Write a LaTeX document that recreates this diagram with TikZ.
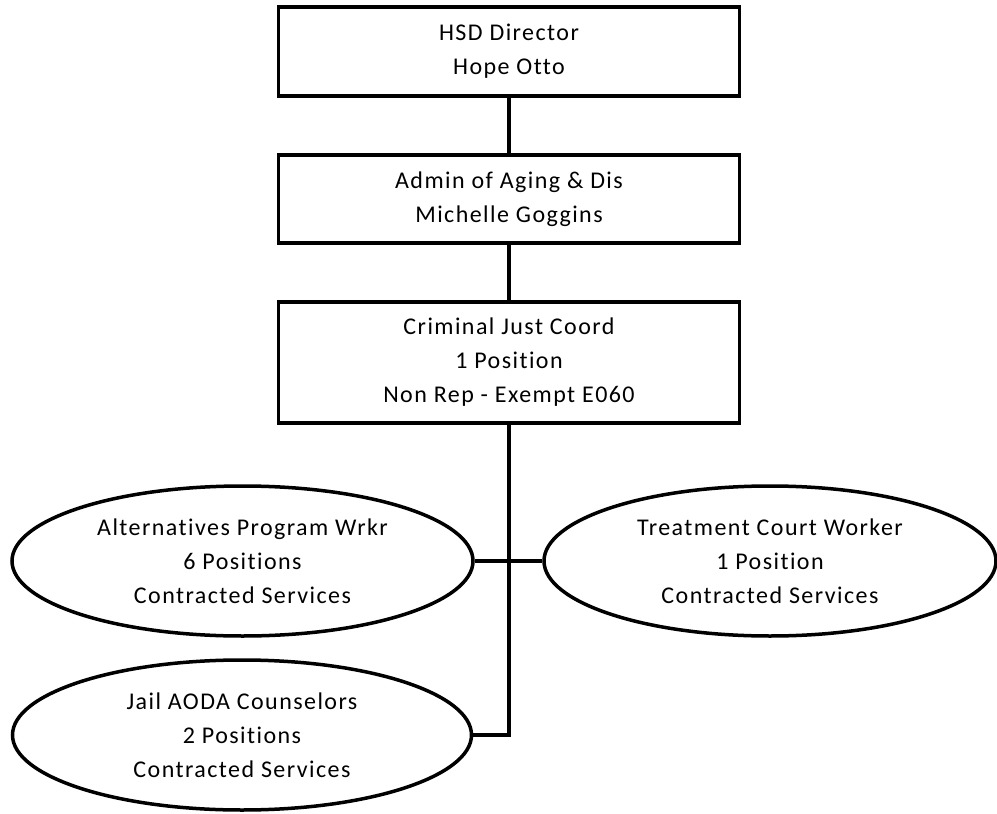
\documentclass[tikz,border=0pt]{standalone}
\usepackage{fontspec}
\setmainfont[LetterSpace=6, Ligatures={NoCommon}]{Carlito}
\usetikzlibrary{shapes.geometric}
\begin{document}
\begin{tikzpicture}[x=1pt,y=-1pt,
  every node/.style={font=\fontsize{24}{34}\selectfont, align=center, inner sep=0pt},
  rolebox/.style={draw=black, line width=3.5pt, rectangle, minimum width=461pt},
  roleoval/.style={draw=black, line width=3.5pt, ellipse, minimum height=150pt},
  link/.style={draw=black, line width=3.5pt, line join=miter}]
  % page frame
  \useasboundingbox[fill=white] (0,0) rectangle (997,814);

  % management chain
  \node[rolebox, minimum height=89pt] (hsd) at (509,51.5) {HSD Director\\Hope Otto};
  \node[rolebox, minimum height=88pt] (aging) at (509,199) {Admin of Aging \& Dis\\Michelle Goggins};
  \node[rolebox, minimum height=121pt] (cjc) at (509,362.5) {Criminal Just Coord\\1 Position\\Non Rep - Exempt E060};

  % contracted positions
  \node[roleoval, minimum width=461pt] (alt) at (242.5,561) {Alternatives Program Wrkr\\6 Positions\\Contracted Services};
  \node[roleoval, minimum width=452pt] (tcw) at (770,561) {Treatment Court Worker\\1 Position\\Contracted Services};
  \node[roleoval, minimum width=459pt] (jail) at (242,735) {Jail AODA Counselors\\2 Positions\\Contracted Services};

  % reporting lines
  \coordinate (trunkEnd) at (509,735);
  \draw[link] (hsd) -- (aging);
  \draw[link] (aging) -- (cjc);
  \draw[link] (cjc.south) -- (trunkEnd) -- (jail.east);
  \draw[link] (alt.east) -- (tcw.west);
\end{tikzpicture}
\end{document}
